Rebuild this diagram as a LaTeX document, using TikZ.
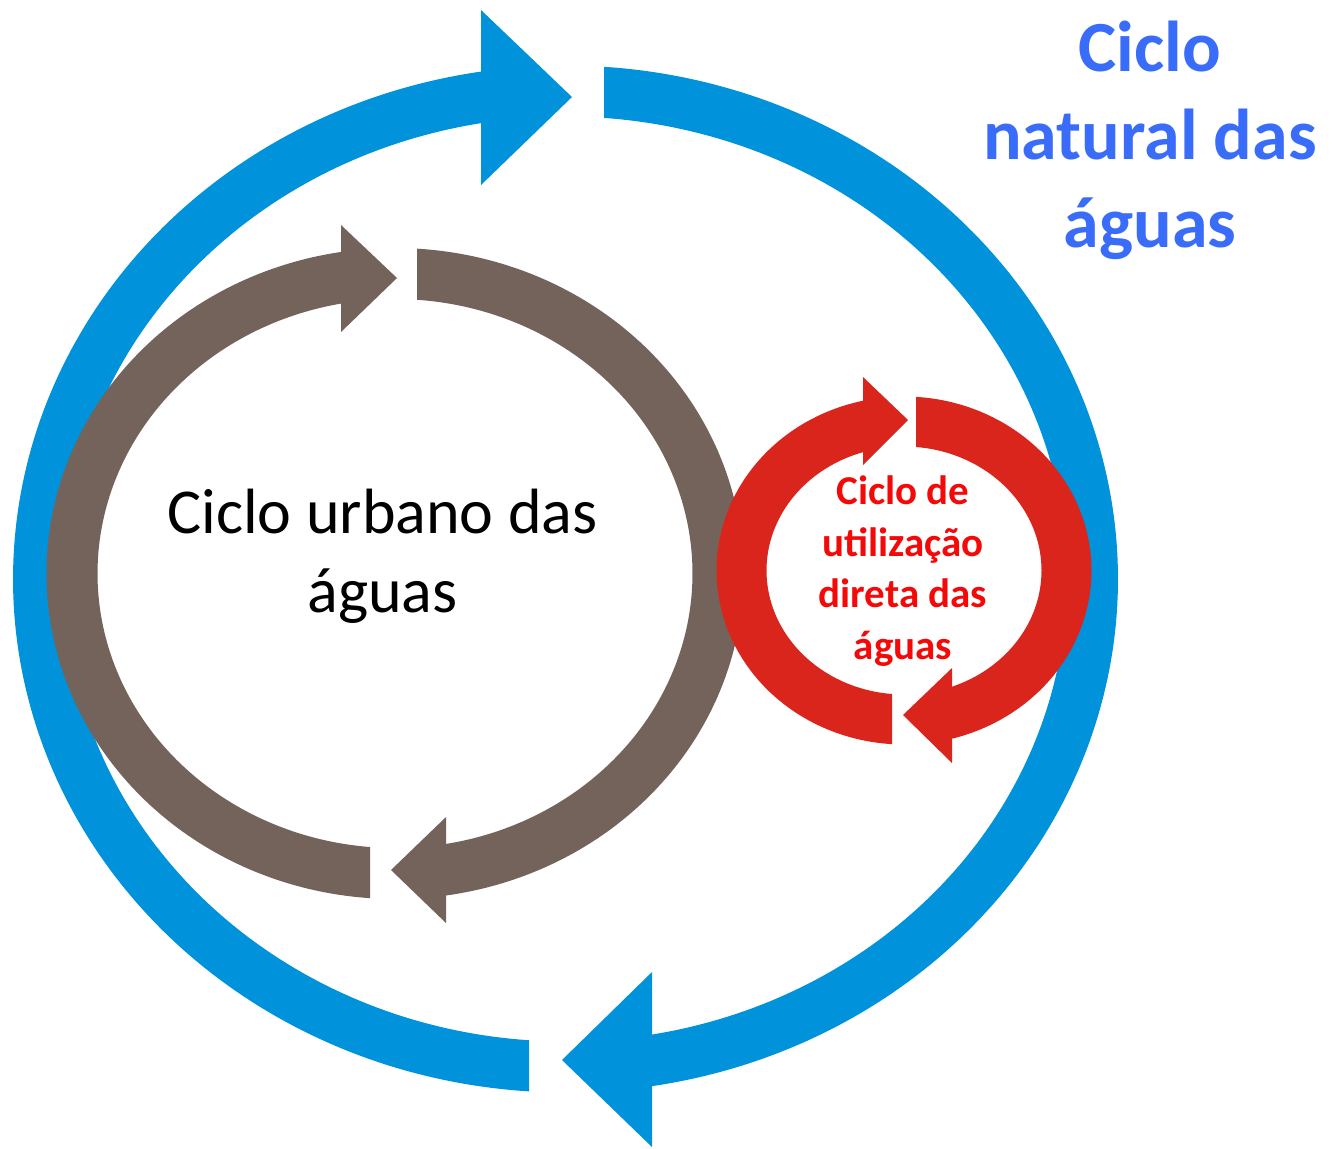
\documentclass[tikz,border=0pt]{standalone}
\usepackage{fontspec}
\setmainfont{Carlito}
\definecolor{ringblue}{RGB}{0,146,218}
\definecolor{ringbrown}{RGB}{115,99,91}
\definecolor{ringred}{RGB}{218,37,29}
\definecolor{txtblue}{RGB}{58,108,250}
\definecolor{txtred}{RGB}{245,8,8}
\begin{document}
\begin{tikzpicture}[x=0.5pt,y=-0.5pt,
  bluearc/.style={draw=ringblue,line width=25.5pt},
  brownarc/.style={draw=ringbrown,line width=25.5pt},
  redarc/.style={draw=ringred,line width=25pt},
  label/.style={align=center,inner sep=0pt}]
\useasboundingbox (0,0) rectangle (1332,1148);
\fill[white] (0,0) rectangle (1332,1148);
% ---- natural cycle (blue) ----
\begin{scope}
  \clip (0,0) rectangle (529,1148);
  \draw[bluearc] plot[domain=95:272,samples=170] ({565.5+527*cos(\x)},{579-488*sin(\x)});
\end{scope}
\begin{scope}
  \clip (604,0) rectangle (1332,1148);
  \draw[bluearc] plot[domain=92:-82.5,samples=170] ({565.5+527*cos(\x)},{579-488*sin(\x)});
\end{scope}
\fill[ringblue] (481,10) -- (481,185) -- (572,97) -- cycle;
\fill[ringblue] (652,972) -- (652,1147) -- (562,1060) -- cycle;
% ---- urban cycle (brown) ----
\begin{scope}
  \clip (0,0) rectangle (370,1148);
  \draw[brownarc] plot[domain=98:272,samples=150] ({395+323*cos(\x)},{573.5-300*sin(\x)});
\end{scope}
\begin{scope}
  \clip (417,0) rectangle (1332,1148);
  \draw[brownarc] plot[domain=92:-82.5,samples=150] ({395+323*cos(\x)},{573.5-300*sin(\x)});
\end{scope}
\fill[ringbrown] (341,225) -- (341,332) -- (397,278) -- cycle;
\fill[ringbrown] (446,817) -- (446,923) -- (391,870) -- cycle;
% ---- direct use cycle (red) ----
\begin{scope}
  \clip (0,0) rectangle (892,1148);
  \draw[redarc] plot[domain=102.5:272,samples=110] ({904+162.5*cos(\x)},{570.5-149*sin(\x)});
\end{scope}
\begin{scope}
  \clip (916,0) rectangle (1332,1148);
  \draw[redarc] plot[domain=92:-75,samples=110] ({904+162.5*cos(\x)},{570.5-149*sin(\x)});
\end{scope}
\fill[ringred] (863,377) -- (863,465) -- (908,420) -- cycle;
\fill[ringred] (952,668) -- (952,763) -- (903,715) -- cycle;
% ---- labels ----
\node[label,font=\fontsize{32}{39.5}\selectfont] (urbano) at (382.5,556) {Ciclo urbano das\\águas};
\node[label,text=txtblue,font=\bfseries\fontsize{36}{44}\selectfont] (natural) at (1150,140) {Ciclo\\natural das\\águas};
\node[label,text=txtred,font=\bfseries\fontsize{20.5}{25.75}\selectfont] (direta) at (903,571) {Ciclo de\\utilização\\direta das\\águas};
\end{tikzpicture}
\end{document}
